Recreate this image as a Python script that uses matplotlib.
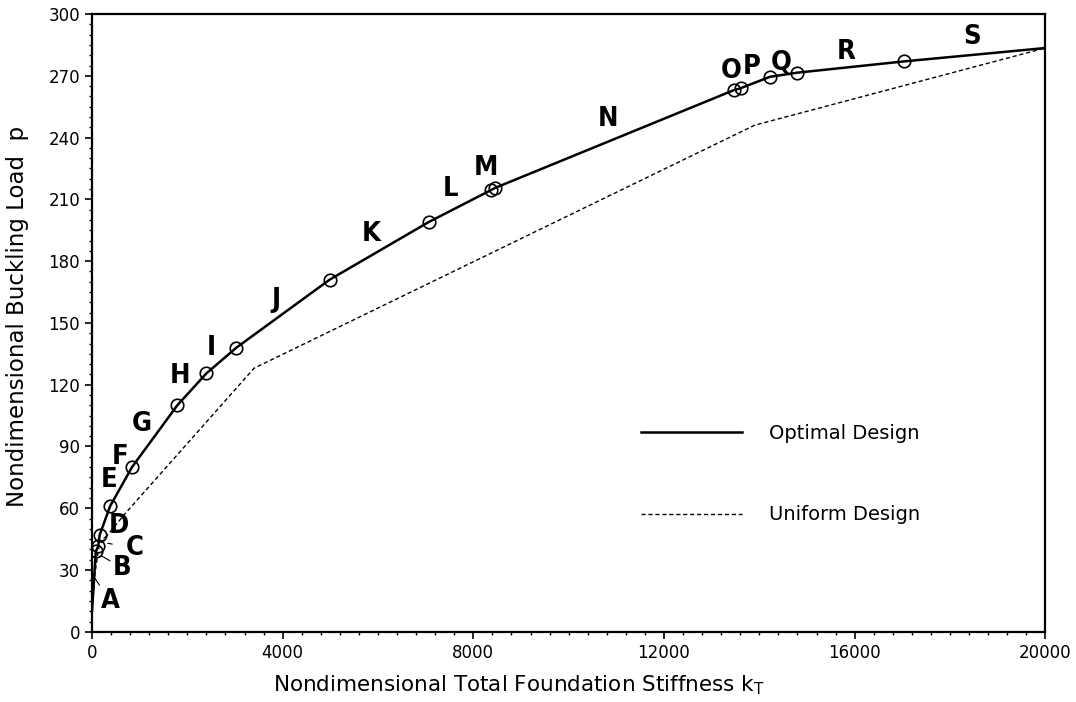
import numpy as np
import matplotlib.pyplot as plt
from matplotlib.ticker import MultipleLocator

# optimal design: circles at the segment boundaries
opt_k = [0, 80, 130, 160, 380, 840, 1790, 2400, 3030, 4985, 7065, 8370, 8450,
         13460, 13610, 14220, 14785, 17035, 20000]
opt_p = [10, 39, 41.5, 47, 61, 80, 110, 125.5, 138, 171, 199, 214.5, 215.5,
         263, 264, 269.5, 271.5, 277, 283.5]
circ_k = opt_k[1:-1]
circ_p = opt_p[1:-1]

# uniform design
uni_k = [0, 60, 150, 680, 3400, 13900, 20000]
uni_p = [10, 28, 42, 57, 128, 246, 283.5]

# segment labels (letter, k, p)
seg_lab = list("EFGHIJKLMNOPQRS")
seg_k = [360, 590, 1050, 1850, 2500, 3850, 5850, 7530, 8265, 10830,
         13420, 13840, 14450, 15815, 18465]
seg_p = [73.5, 85, 101, 124, 138, 161, 193, 215, 225, 249,
         272.5, 274.3, 276.5, 281.4, 288.8]

# labels with pointer lines (letter, text pos, point)
ptr_lab = list("ABCD")
ptr_text = [(378, 15), (630, 31), (900, 40.5), (570, 51.5)]
ptr_tip = [(60, 26), (190, 37), (330, 43), (250, 45.5)]

fig = plt.figure(figsize=(10.76, 7.02), dpi=100)
ax = fig.add_axes([0.0855, 0.1, 0.886, 0.88])

ax.plot(opt_k, opt_p, '-', c='k', lw=1.8, label='Optimal Design')
ax.plot(circ_k, circ_p, 'o', mfc='none', mec='k', ms=9, mew=1.2)
ax.plot(uni_k, uni_p, c='k', lw=1.0, ls=(0, (3, 2)), label='Uniform Design')

lab_font = dict(fontsize=19.5, fontweight='bold', fontstretch='condensed',
                family=['DejaVu Sans'], ha='center', va='center')
for s, k, p in zip(seg_lab, seg_k, seg_p):
    ax.text(k, p, s, **lab_font)
for s, xy_t, xy in zip(ptr_lab, ptr_text, ptr_tip):
    ax.annotate(s, xy=xy, xytext=xy_t,
                arrowprops=dict(arrowstyle='-', lw=0.8, color='k', shrinkA=8, shrinkB=0),
                **lab_font)

ax.set_xlim(0, 20000)
ax.set_ylim(0, 300)
ax.xaxis.set_major_locator(MultipleLocator(4000))
ax.xaxis.set_minor_locator(MultipleLocator(400))
ax.yaxis.set_major_locator(MultipleLocator(30))
ax.yaxis.set_minor_locator(MultipleLocator(5))
ax.tick_params(which='major', direction='out', length=5, width=1.2, labelsize=12)
ax.tick_params(which='minor', direction='out', length=2.5, width=1)
for sp in ax.spines.values():
    sp.set_linewidth(1.6)

ax.set_xlabel(r'Nondimensional Total Foundation Stiffness k$_\mathregular{T}$', fontsize=15.5)
ax.xaxis.set_label_coords(0.448, -0.068)
ax.set_ylabel('Nondimensional Buckling Load  p', fontsize=16.5)
ax.yaxis.set_label_coords(-0.066, 0.51)

ax.legend(loc='center left', bbox_to_anchor=(0.557, 0.255), frameon=False, fontsize=14,
          handlelength=5.2, handletextpad=1.4, labelspacing=3.2)

fig.savefig('out.png', dpi=100)
